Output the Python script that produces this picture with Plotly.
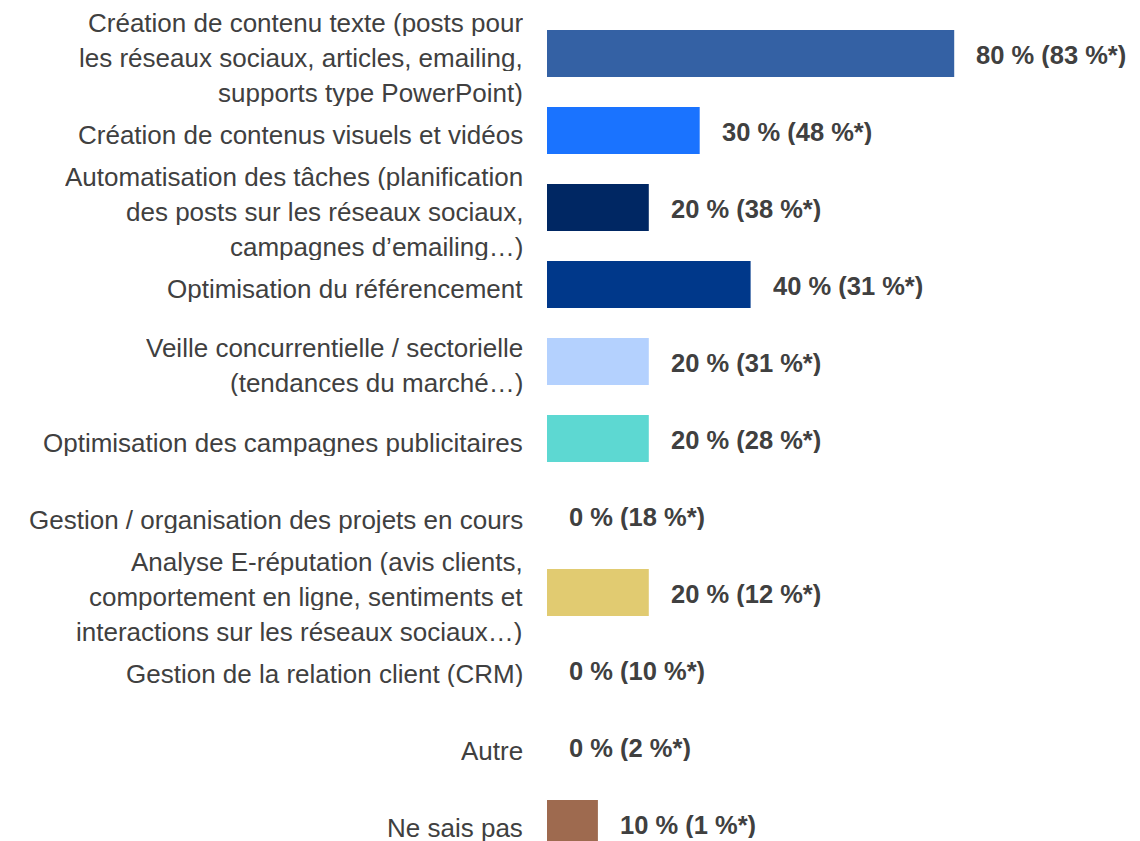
import plotly.graph_objects as go

categories = [
    "Création de contenu texte (posts pour<br>les réseaux sociaux, articles, emailing,<br>supports type PowerPoint)",
    "Création de contenus visuels et vidéos",
    "Automatisation des tâches (planification<br>des posts sur les réseaux sociaux,<br>campagnes d’emailing…)",
    "Optimisation du référencement",
    "Veille concurrentielle / sectorielle<br>(tendances du marché…)",
    "Optimisation des campagnes publicitaires",
    "Gestion / organisation des projets en cours",
    "Analyse E-réputation (avis clients,<br>comportement en ligne, sentiments et<br>interactions sur les réseaux sociaux…)",
    "Gestion de la relation client (CRM)",
    "Autre",
    "Ne sais pas",
]
values = [80, 30, 20, 40, 20, 20, 0, 20, 0, 0, 10]
comparison = [83, 48, 38, 31, 31, 28, 18, 12, 10, 2, 1]
colors = ["#3461a4", "#1a73ff", "#002763", "#00388a", "#b4d1fe", "#5dd8d2",
          "#cccccc", "#e1cb71", "#cccccc", "#cccccc", "#9e6a4f"]

FONT = "Liberation Sans, Arial, sans-serif"
TXT = "#404040"
pos = list(range(len(categories)))

W, H = 1132, 833
fig = go.Figure()
fig.add_trace(go.Bar(
    x=values, y=pos, orientation="h", width=0.61,
    marker=dict(color=colors, line=dict(width=0)),
    hoverinfo="skip",
))

annotations = []
LINE_H = 35
for i, (cat, v, c) in enumerate(zip(categories, values, comparison)):
    lines = cat.split("<br>")
    n = len(lines)
    for j, line in enumerate(lines):
        off = ((n - 1) / 2 - j) * LINE_H
        annotations.append(dict(
            x=0, y=i, xref="x", yref="y", text=line, showarrow=False,
            xanchor="right", yanchor="middle", xshift=-22, yshift=off - 4,
            height=26, valign="middle",
            font=dict(family=FONT, size=26, color=TXT),
        ))
    annotations.append(dict(
        x=v, y=i, xref="x", yref="y", text=f"<b>{v} % ({c} %*)</b>",
        showarrow=False, xanchor="left", yanchor="middle", xshift=20, yshift=-1,
        height=26, valign="middle",
        font=dict(family=FONT, size=25.5, color=TXT),
    ))

fig.update_layout(
    width=W, height=H,
    margin=dict(l=539, r=0, t=0, b=0),
    paper_bgcolor="white", plot_bgcolor="white",
    showlegend=False,
    xaxis=dict(range=[0, 116.5], visible=False, fixedrange=True),
    yaxis=dict(range=[(H - 45.5) / 77, -45.5 / 77], visible=False, fixedrange=True),
    annotations=annotations,
)

fig.write_html("out.html")
